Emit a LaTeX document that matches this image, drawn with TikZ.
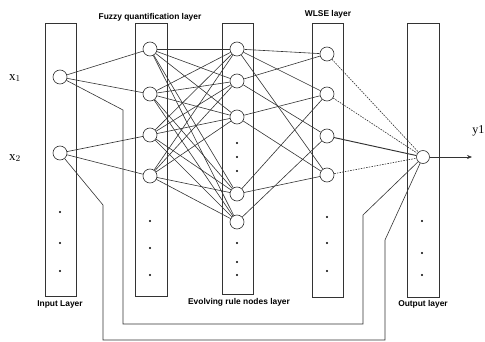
\documentclass[tikz,border=0pt]{standalone}
\usepackage{fontspec}
\setmainfont{Liberation Serif}
\newfontfamily\lblfont{Liberation Sans}
\usetikzlibrary{arrows.meta}
\begin{document}
\begin{tikzpicture}[x=1pt,y=-1pt,
  layerbox/.style={draw=black!80,line width=0.75pt},
  neuron/.style={circle,draw=black!80,fill=white,line width=0.65pt,minimum size=14pt,inner sep=0pt},
  link/.style={draw=black!80,line width=0.6pt},
  dashlink/.style={link,dash pattern=on 1.6pt off 1.1pt},
  dotmark/.style={circle,fill=black,minimum size=2.2pt,inner sep=0pt},
  layername/.style={font=\lblfont\bfseries\fontsize{8.4}{10}\selectfont,inner sep=0pt},
  varname/.style={font=\fontsize{13}{15}\selectfont,inner sep=0pt}]
\useasboundingbox (0,0) rectangle (485,342);

% layer columns
\draw[layerbox] (45,23) rectangle (76,296);
\draw[layerbox] (135,23) rectangle (167,296);
\draw[layerbox] (222,23) rectangle (253,294);
\draw[layerbox] (312,23) rectangle (343,297);
\draw[layerbox] (407,23) rectangle (439,297);

% input neurons
\node[neuron] (x1) at (60,77) {};
\node[neuron] (x2) at (60,153) {};
% fuzzy quantification neurons
\node[neuron] (f1) at (150,49) {};
\node[neuron] (f2) at (150,94) {};
\node[neuron] (f3) at (150,135) {};
\node[neuron] (f4) at (150,176) {};
% rule nodes
\node[neuron] (r1) at (237,49) {};
\node[neuron] (r2) at (237,81) {};
\node[neuron] (r3) at (237,117) {};
\node[neuron] (r4) at (237,194) {};
\node[neuron] (r5) at (237,222) {};
% WLSE neurons
\node[neuron] (w1) at (327,54) {};
\node[neuron] (w2) at (327,94) {};
\node[neuron] (w3) at (327,136) {};
\node[neuron] (w4) at (327,175) {};
% output neuron
\node[neuron,minimum size=13pt] (o) at (423,157) {};

% ellipsis dots
\foreach \y [count=\k] in {212,243,271} \node[dotmark] (din\k) at (60,\y) {};
\foreach \y [count=\k] in {221,248,275} \node[dotmark] (dfz\k) at (150,\y) {};
\foreach \y [count=\k] in {143,157,171,243,262,275} \node[dotmark] (drl\k) at (237,\y) {};
\foreach \y [count=\k] in {217,243,271} \node[dotmark] (dws\k) at (327,\y) {};
\foreach \y [count=\k] in {221,253,275} \node[dotmark] (dout\k) at (422,\y) {};

% input -> fuzzy
\draw[link] (x1) -- (f1);
\draw[link] (x1) -- (f2);
\draw[link] (x2) -- (f3);
\draw[link] (x2) -- (f4);

% fuzzy -> rule nodes (fully connected)
\foreach \i in {1,...,4}
  \foreach \j in {1,...,5}
    \draw[link] (f\i) -- (r\j);

% rule nodes -> WLSE
\draw[link] (r1) -- (w1);
\draw[link] (r1) -- (w2);
\draw[link] (r1) -- (w4);
\draw[link] (r2) -- (w1);
\draw[link] (r2) -- (w3);
\draw[link] (r3) -- (w2);
\draw[link] (r3) -- (w4);
\draw[link] (r4) -- (w2);
\draw[link] (r4) -- (w4);
\draw[link] (r5) -- (w3);

% WLSE -> output
\draw[dashlink] (w1) -- (o);
\draw[dashlink] (w2) -- (o);
\draw[link,line width=0.95pt] (w3) -- (o);
\draw[dashlink] (w4) -- (o);

% direct input -> output paths
\coordinate (pa1) at (123,110);
\coordinate (pa2) at (123,324);
\coordinate (pa3) at (363,324);
\coordinate (pa4) at (363,215);
\draw[link] (x1) -- (pa1) -- (pa2) -- (pa3) -- (pa4) -- (o);
\coordinate (pb1) at (103,205);
\coordinate (pb2) at (103,340);
\coordinate (pb3) at (385,340);
\coordinate (pb4) at (385,240);
\draw[link] (x2) -- (pb1) -- (pb2) -- (pb3) -- (pb4) -- (o);

% output arrow
\coordinate (yend) at (472,157);
\draw[link,-{Stealth[length=5pt,width=4pt]}] (o) -- (yend);

% labels
\node[layername] (t1) at (150,17) {Fuzzy quantification layer};
\node[layername] (t2) at (328,14) {WLSE layer};
\node[layername] (t3) at (60,304) {Input Layer};
\node[layername] (t4) at (239,302) {Evolving rule nodes layer};
\node[layername] (t5) at (423,304) {Output layer};
\node[varname] (lx1) at (15,78) {x$_1$};
\node[varname] (lx2) at (15,158) {x$_2$};
\node[varname,font=\fontsize{12}{14}\selectfont,anchor=east] (ly1) at (484.5,131) {y1};
\end{tikzpicture}
\end{document}
